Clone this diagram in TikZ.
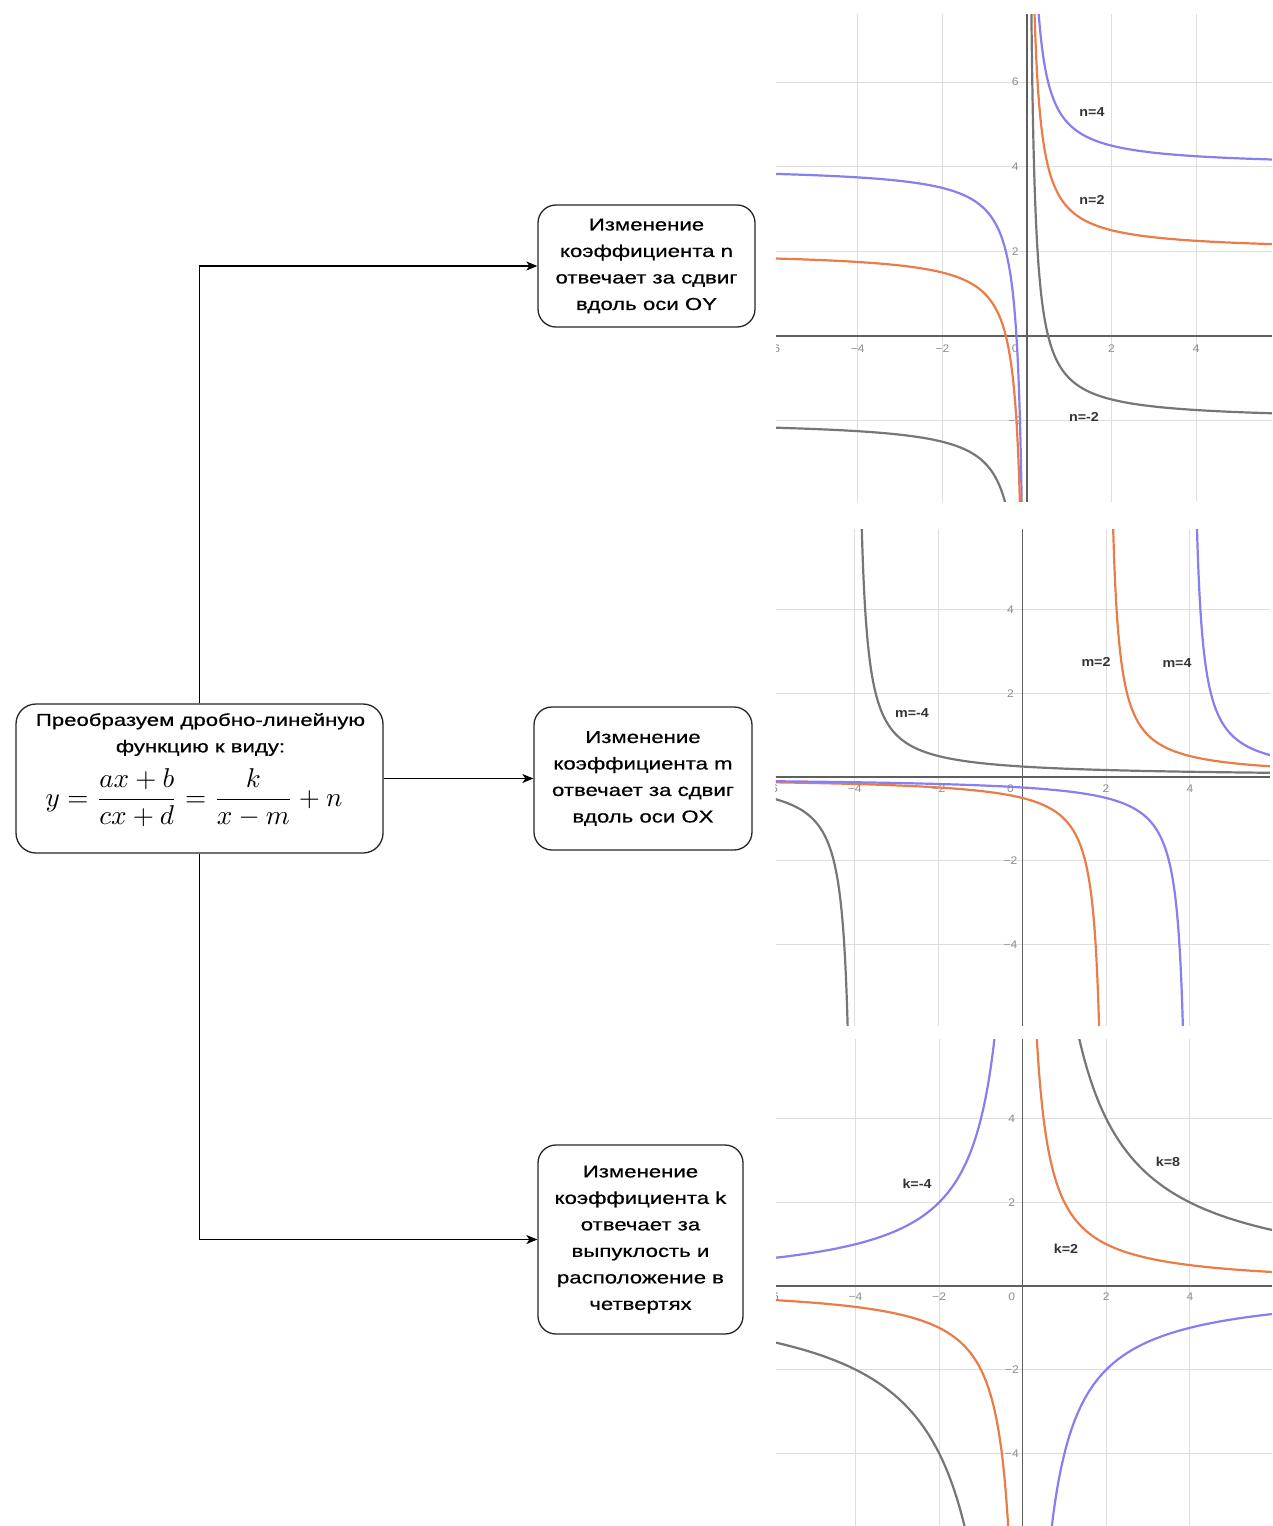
\documentclass[tikz,border=0pt]{standalone}
\usepackage{graphicx}
\usepackage{fontspec}
\setmainfont{Liberation Sans}[FakeStretch=1.29, FakeBold=0.6]
\newfontfamily\labfont{Liberation Sans}[FakeStretch=1.1]
\usetikzlibrary{arrows.meta}
\definecolor{cblue}{RGB}{135,126,240}
\definecolor{corange}{RGB}{234,124,74}
\definecolor{cgray}{RGB}{118,118,118}
\definecolor{gridc}{RGB}{222,222,222}
\definecolor{axisc}{RGB}{95,95,95}
\definecolor{tickc}{RGB}{140,140,140}
\newcommand\bxfont{\fontsize{17.2}{26.5}\selectfont}
\begin{document}
\begin{tikzpicture}[x=1pt,y=-1pt,
  box/.style={draw=black!85, line width=1.3pt, rounded corners=18pt, fill=white,
    align=center, inner sep=0pt, font=\bxfont},
  conn/.style={draw=black, line width=1.2pt, -{Stealth[length=11pt,width=9pt,inset=3pt]}},
  gridl/.style={draw=gridc, line width=1.1pt},
  axisl/.style={draw=axisc, line width=1.3pt},
  curve/.style={line width=2.2pt},
  clab/.style={font=\labfont\bfseries\fontsize{13}{13}\selectfont, text=black!80, inner sep=0pt},
  ticklab/.style={font=\labfont\fontsize{11}{11}\selectfont, text=tickc, inner sep=0pt}]
\useasboundingbox (0,0) rectangle (1272,1526);

% ---------- flowchart ----------
\node[box, minimum width=367pt, minimum height=149pt, rounded corners=20pt] (src) at (199.5,778.5) {};
\node[font=\bxfont, align=center, inner sep=0pt] (srctext) at (200.5,734.5)
  {Преобразуем дробно-линейную\\функцию к виду:};
\node[inner sep=0pt] (formula) at (194,798)
  {\scalebox{2.72}{$\displaystyle y=\frac{ax+b}{cx+d}=\frac{k}{x-m}+n$}};

\node[box, minimum width=217pt, minimum height=122pt] (b1) at (646.5,266)
  {Изменение\\коэффициента n\\отвечает за сдвиг\\вдоль оси OY};
\node[box, minimum width=218pt, minimum height=143pt] (b2) at (643,778.5)
  {Изменение\\коэффициента m\\отвечает за сдвиг\\вдоль оси OX};
\node[box, minimum width=205pt, minimum height=189pt] (b3) at (640.5,1239.5)
  {Изменение\\коэффициента k\\отвечает за\\выпуклость и\\расположение в\\четвертях};

\draw[conn] (src.north) |- (b1.west);
\draw[conn] (src.east) -- (b2.west);
\draw[conn] (src.south) |- (b3.west);

% ---------- graph 1 : y = 1/x + n ----------
\begin{scope}[shift={(1027,336)}, x=42.3pt, y=42.3pt]
  \clip (-5.934,-3.92) rectangle (5.79,7.61);
  \foreach \g in {-4,-2,2,4} \draw[gridl] (\g,-5) -- (\g,8);
  \foreach \g in {-2,2,4,6} \draw[gridl] (-7,\g) -- (7,\g);
  \draw[axisl] (-7,0) -- (7,0);
  \draw[axisl] (0,-5) -- (0,8);
  \foreach \g/\t in {-6/−6,-4/−4,-2/−2,2/2,4/4}
    \node[ticklab] (g1x\g) at (\g,-0.29) {\t};
  \node[ticklab] (g1o) at (-0.28,-0.29) {0};
  \foreach \g/\t in {6/6,4/4,2/2,-2/−2}
    \node[ticklab] (g1y\g) at (-0.28,\g) {\t};
  % n = 4
  \draw[curve, cblue] plot[domain=-2.116:1.80, samples=150, variable=\t] ({-exp(\t)},{4-exp(-\t)});
  \draw[curve, cblue] plot[domain=-1.386:1.80, samples=150, variable=\t] ({exp(\t)},{4+exp(-\t)});
  % n = 2
  \draw[curve, corange] plot[domain=-1.841:1.80, samples=150, variable=\t] ({-exp(\t)},{2-exp(-\t)});
  \draw[curve, corange] plot[domain=-1.792:1.80, samples=150, variable=\t] ({exp(\t)},{2+exp(-\t)});
  % n = -2
  \draw[curve, cgray] plot[domain=-0.833:1.80, samples=150, variable=\t] ({-exp(\t)},{-2-exp(-\t)});
  \draw[curve, cgray] plot[domain=-2.303:1.80, samples=150, variable=\t] ({exp(\t)},{-2+exp(-\t)});
\end{scope}
\node[clab] (ln4) at (1092,112) {n=4};
\node[clab] (ln2) at (1092,200) {n=2};
\node[clab] (lnm2) at (1084,417) {n=-2};

% ---------- graph 2 : y = 1/(x - m) ----------
\begin{scope}[shift={(1022.3,777)}, x=41.9pt, y=41.9pt]
  \clip (-5.88,-5.92) rectangle (5.91,5.9);
  \foreach \g in {-4,-2,2,4} \draw[gridl] (\g,-7) -- (\g,7);
  \foreach \g in {-4,-2,2,4} \draw[gridl] (-7,\g) -- (7,\g);
  \draw[axisl] (-7,0) -- (7,0);
  \draw[axisl] (0,-7) -- (0,7);
  \foreach \g/\t in {-6/−6,-4/−4,-2/−2,2/2,4/4}
    \node[ticklab] (g2x\g) at (\g,-0.27) {\t};
  \node[ticklab] (g2o) at (-0.28,-0.27) {0};
  \foreach \g/\t in {6/6,4/4,2/2,-2/−2,-4/−4}
    \node[ticklab] (g2y\g) at (-0.28,\g) {\t};
  % m = -4
  \draw[curve, cgray] plot[domain=-1.825:2.303, samples=150, variable=\t] ({-4+exp(\t)},{exp(-\t)});
  \draw[curve, cgray] plot[domain=-1.825:0.693, samples=150, variable=\t] ({-4-exp(\t)},{-exp(-\t)});
  % m = 2
  \draw[curve, corange] plot[domain=-1.825:1.386, samples=150, variable=\t] ({2+exp(\t)},{exp(-\t)});
  \draw[curve, corange] plot[domain=-1.825:2.079, samples=150, variable=\t] ({2-exp(\t)},{-exp(-\t)});
  % m = 4
  \draw[curve, cblue] plot[domain=-1.825:0.693, samples=150, variable=\t] ({4+exp(\t)},{exp(-\t)});
  \draw[curve, cblue] plot[domain=-1.825:2.303, samples=150, variable=\t] ({4-exp(\t)},{-exp(-\t)});
\end{scope}
\node[clab] (lmm4) at (912,713) {m=-4};
\node[clab] (lm2) at (1096,662) {m=2};
\node[clab] (lm4) at (1177,663) {m=4};

% ---------- graph 3 : y = k/x ----------
\begin{scope}[shift={(1022.7,1286)}, x=41.8pt, y=41.8pt]
  \clip (-5.9,-5.75) rectangle (5.96,5.89);
  \foreach \g in {-4,-2,2,4} \draw[gridl] (\g,-7) -- (\g,7);
  \foreach \g in {-4,-2,2,4} \draw[gridl] (-7,\g) -- (7,\g);
  \draw[axisl] (-7,0) -- (7,0);
  \draw[axisl] (0,-7) -- (0,7);
  \foreach \g/\t in {-6/−6,-4/−4,-2/−2,2/2,4/4}
    \node[ticklab] (g3x\g) at (\g,-0.26) {\t};
  \node[ticklab] (g3o) at (-0.26,-0.26) {0};
  \foreach \g/\t in {4/4,2/2,-2/−2,-4/−4}
    \node[ticklab] (g3y\g) at (-0.26,\g) {\t};
  % k = -4
  \draw[curve, cblue] plot[domain=-0.438:1.808, samples=150, variable=\t] ({exp(\t)},{-4*exp(-\t)});
  \draw[curve, cblue] plot[domain=-0.438:1.808, samples=150, variable=\t] ({-exp(\t)},{4*exp(-\t)});
  % k = 2
  \draw[curve, corange] plot[domain=-1.131:1.808, samples=150, variable=\t] ({exp(\t)},{2*exp(-\t)});
  \draw[curve, corange] plot[domain=-1.131:1.808, samples=150, variable=\t] ({-exp(\t)},{-2*exp(-\t)});
  % k = 8
  \draw[curve, cgray] plot[domain=0.255:1.808, samples=150, variable=\t] ({exp(\t)},{8*exp(-\t)});
  \draw[curve, cgray] plot[domain=0.255:1.808, samples=150, variable=\t] ({-exp(\t)},{-8*exp(-\t)});
\end{scope}
\node[clab] (lkm4) at (917,1184) {k=-4};
\node[clab] (lk8) at (1168,1162) {k=8};
\node[clab] (lk2) at (1066,1249) {k=2};
\end{tikzpicture}
\end{document}
